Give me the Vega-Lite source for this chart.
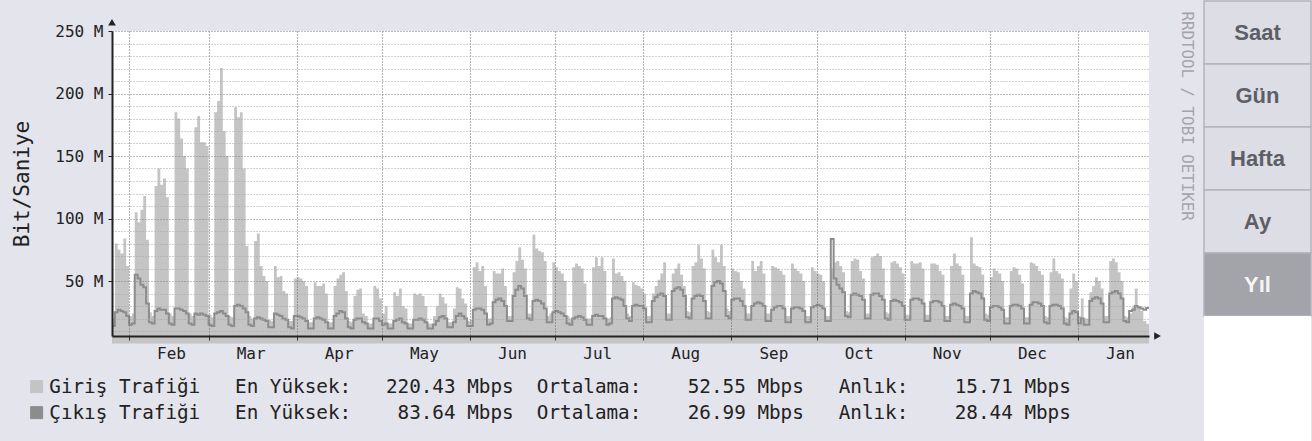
{
  "$schema": "https://vega.github.io/schema/vega-lite/v6.json",
  "background": "#e4e4ec",
  "padding": {"left": 11, "top": 0, "right": 0, "bottom": 0},
  "columns": 2,
  "align": "none",
  "spacing": 9,
  "config": {"view": {"stroke": null}},
  "datasets": {
    "traffic": [
      {"t":"2014-01-26","i":20,"o":14},{"t":"2014-01-27","i":80,"o":25},{"t":"2014-01-28","i":75,"o":27},{"t":"2014-01-29","i":72,"o":26},{"t":"2014-01-30","i":84,"o":25},{"t":"2014-01-31","i":62,"o":22},
      {"t":"2014-02-01","i":22,"o":15},{"t":"2014-02-02","i":24,"o":16},{"t":"2014-02-03","i":105,"o":55},{"t":"2014-02-04","i":97,"o":52},{"t":"2014-02-05","i":107,"o":47},{"t":"2014-02-06","i":118,"o":45},{"t":"2014-02-07","i":83,"o":32},
      {"t":"2014-02-08","i":25,"o":17},{"t":"2014-02-09","i":22,"o":16},{"t":"2014-02-10","i":126,"o":26},{"t":"2014-02-11","i":140,"o":28},{"t":"2014-02-12","i":127,"o":27},{"t":"2014-02-13","i":132,"o":27},{"t":"2014-02-14","i":117,"o":24},
      {"t":"2014-02-15","i":24,"o":16},{"t":"2014-02-16","i":22,"o":15},{"t":"2014-02-17","i":185,"o":28},{"t":"2014-02-18","i":180,"o":28},{"t":"2014-02-19","i":164,"o":27},{"t":"2014-02-20","i":150,"o":26},{"t":"2014-02-21","i":140,"o":24},
      {"t":"2014-02-22","i":24,"o":16},{"t":"2014-02-23","i":22,"o":15},{"t":"2014-02-24","i":173,"o":24},{"t":"2014-02-25","i":182,"o":23},{"t":"2014-02-26","i":161,"o":24},{"t":"2014-02-27","i":161,"o":23},{"t":"2014-02-28","i":158,"o":22},
      {"t":"2014-03-01","i":23,"o":15},{"t":"2014-03-02","i":21,"o":14},{"t":"2014-03-03","i":185,"o":24},{"t":"2014-03-04","i":194,"o":25},{"t":"2014-03-05","i":220.43,"o":26},{"t":"2014-03-06","i":170,"o":24},{"t":"2014-03-07","i":150,"o":22},
      {"t":"2014-03-08","i":22,"o":15},{"t":"2014-03-09","i":21,"o":14},{"t":"2014-03-10","i":189,"o":30},{"t":"2014-03-11","i":181,"o":31},{"t":"2014-03-12","i":185,"o":30},{"t":"2014-03-13","i":140,"o":28},{"t":"2014-03-14","i":78,"o":25},
      {"t":"2014-03-15","i":22,"o":15},{"t":"2014-03-16","i":20,"o":14},{"t":"2014-03-17","i":82,"o":20},{"t":"2014-03-18","i":88,"o":21},{"t":"2014-03-19","i":62,"o":20},{"t":"2014-03-20","i":54,"o":19},{"t":"2014-03-21","i":50,"o":18},
      {"t":"2014-03-22","i":19,"o":13},{"t":"2014-03-23","i":18,"o":13},{"t":"2014-03-24","i":62,"o":24},{"t":"2014-03-25","i":53,"o":23},{"t":"2014-03-26","i":54,"o":22},{"t":"2014-03-27","i":42,"o":20},{"t":"2014-03-28","i":40,"o":19},
      {"t":"2014-03-29","i":18,"o":13},{"t":"2014-03-30","i":18,"o":12},{"t":"2014-03-31","i":52,"o":22},{"t":"2014-04-01","i":53,"o":22},{"t":"2014-04-02","i":52,"o":21},{"t":"2014-04-03","i":50,"o":20},{"t":"2014-04-04","i":46,"o":18},
      {"t":"2014-04-05","i":17,"o":12},{"t":"2014-04-06","i":17,"o":12},{"t":"2014-04-07","i":49,"o":20},{"t":"2014-04-08","i":46,"o":21},{"t":"2014-04-09","i":46,"o":20},{"t":"2014-04-10","i":48,"o":19},{"t":"2014-04-11","i":40,"o":17},
      {"t":"2014-04-12","i":17,"o":12},{"t":"2014-04-13","i":17,"o":12},{"t":"2014-04-14","i":46,"o":22},{"t":"2014-04-15","i":52,"o":24},{"t":"2014-04-16","i":55,"o":26},{"t":"2014-04-17","i":57,"o":25},{"t":"2014-04-18","i":42,"o":20},
      {"t":"2014-04-19","i":18,"o":13},{"t":"2014-04-20","i":17,"o":12},{"t":"2014-04-21","i":38,"o":19},{"t":"2014-04-22","i":43,"o":20},{"t":"2014-04-23","i":44,"o":20},{"t":"2014-04-24","i":24,"o":17},{"t":"2014-04-25","i":22,"o":16},
      {"t":"2014-04-26","i":16,"o":12},{"t":"2014-04-27","i":16,"o":12},{"t":"2014-04-28","i":46,"o":20},{"t":"2014-04-29","i":44,"o":20},{"t":"2014-04-30","i":36,"o":18},{"t":"2014-05-01","i":24,"o":15},{"t":"2014-05-02","i":30,"o":16},
      {"t":"2014-05-03","i":16,"o":12},{"t":"2014-05-04","i":16,"o":12},{"t":"2014-05-05","i":41,"o":18},{"t":"2014-05-06","i":38,"o":19},{"t":"2014-05-07","i":44,"o":20},{"t":"2014-05-08","i":30,"o":17},{"t":"2014-05-09","i":28,"o":16},
      {"t":"2014-05-10","i":16,"o":12},{"t":"2014-05-11","i":16,"o":12},{"t":"2014-05-12","i":40,"o":19},{"t":"2014-05-13","i":39,"o":19},{"t":"2014-05-14","i":40,"o":20},{"t":"2014-05-15","i":38,"o":19},{"t":"2014-05-16","i":30,"o":17},
      {"t":"2014-05-17","i":16,"o":12},{"t":"2014-05-18","i":16,"o":12},{"t":"2014-05-19","i":22,"o":15},{"t":"2014-05-20","i":30,"o":18},{"t":"2014-05-21","i":40,"o":21},{"t":"2014-05-22","i":37,"o":22},{"t":"2014-05-23","i":32,"o":20},
      {"t":"2014-05-24","i":17,"o":13},{"t":"2014-05-25","i":17,"o":13},{"t":"2014-05-26","i":28,"o":17},{"t":"2014-05-27","i":45,"o":22},{"t":"2014-05-28","i":44,"o":24},{"t":"2014-05-29","i":36,"o":22},{"t":"2014-05-30","i":32,"o":20},
      {"t":"2014-05-31","i":18,"o":14},{"t":"2014-06-01","i":19,"o":14},{"t":"2014-06-02","i":61,"o":27},{"t":"2014-06-03","i":65,"o":28},{"t":"2014-06-04","i":58,"o":28},{"t":"2014-06-05","i":62,"o":27},{"t":"2014-06-06","i":46,"o":24},
      {"t":"2014-06-07","i":20,"o":15},{"t":"2014-06-08","i":20,"o":16},{"t":"2014-06-09","i":58,"o":33},{"t":"2014-06-10","i":56,"o":35},{"t":"2014-06-11","i":56,"o":36},{"t":"2014-06-12","i":60,"o":34},{"t":"2014-06-13","i":46,"o":30},
      {"t":"2014-06-14","i":22,"o":18},{"t":"2014-06-15","i":22,"o":18},{"t":"2014-06-16","i":57,"o":38},{"t":"2014-06-17","i":66,"o":43},{"t":"2014-06-18","i":77,"o":46},{"t":"2014-06-19","i":67,"o":44},{"t":"2014-06-20","i":60,"o":38},
      {"t":"2014-06-21","i":24,"o":20},{"t":"2014-06-22","i":24,"o":19},{"t":"2014-06-23","i":87,"o":34},{"t":"2014-06-24","i":76,"o":35},{"t":"2014-06-25","i":74,"o":34},{"t":"2014-06-26","i":73,"o":32},{"t":"2014-06-27","i":66,"o":28},
      {"t":"2014-06-28","i":22,"o":17},{"t":"2014-06-29","i":24,"o":17},{"t":"2014-06-30","i":65,"o":25},{"t":"2014-07-01","i":61,"o":26},{"t":"2014-07-02","i":58,"o":25},{"t":"2014-07-03","i":56,"o":24},{"t":"2014-07-04","i":50,"o":22},
      {"t":"2014-07-05","i":22,"o":16},{"t":"2014-07-06","i":20,"o":15},{"t":"2014-07-07","i":61,"o":20},{"t":"2014-07-08","i":64,"o":21},{"t":"2014-07-09","i":62,"o":22},{"t":"2014-07-10","i":60,"o":21},{"t":"2014-07-11","i":48,"o":19},
      {"t":"2014-07-12","i":20,"o":15},{"t":"2014-07-13","i":20,"o":15},{"t":"2014-07-14","i":61,"o":22},{"t":"2014-07-15","i":69,"o":23},{"t":"2014-07-16","i":62,"o":22},{"t":"2014-07-17","i":69,"o":22},{"t":"2014-07-18","i":58,"o":20},
      {"t":"2014-07-19","i":20,"o":15},{"t":"2014-07-20","i":21,"o":16},{"t":"2014-07-21","i":68,"o":36},{"t":"2014-07-22","i":56,"o":37},{"t":"2014-07-23","i":57,"o":36},{"t":"2014-07-24","i":54,"o":35},{"t":"2014-07-25","i":50,"o":30},
      {"t":"2014-07-26","i":24,"o":20},{"t":"2014-07-27","i":22,"o":18},{"t":"2014-07-28","i":49,"o":30},{"t":"2014-07-29","i":47,"o":31},{"t":"2014-07-30","i":46,"o":30},{"t":"2014-07-31","i":44,"o":30},{"t":"2014-08-01","i":40,"o":28},
      {"t":"2014-08-02","i":22,"o":17},{"t":"2014-08-03","i":22,"o":17},{"t":"2014-08-04","i":40,"o":34},{"t":"2014-08-05","i":46,"o":37},{"t":"2014-08-06","i":51,"o":39},{"t":"2014-08-07","i":56,"o":40},{"t":"2014-08-08","i":65,"o":38},
      {"t":"2014-08-09","i":24,"o":19},{"t":"2014-08-10","i":24,"o":19},{"t":"2014-08-11","i":56,"o":42},{"t":"2014-08-12","i":60,"o":44},{"t":"2014-08-13","i":64,"o":45},{"t":"2014-08-14","i":55,"o":43},{"t":"2014-08-15","i":46,"o":38},
      {"t":"2014-08-16","i":26,"o":21},{"t":"2014-08-17","i":25,"o":20},{"t":"2014-08-18","i":62,"o":36},{"t":"2014-08-19","i":65,"o":38},{"t":"2014-08-20","i":79,"o":39},{"t":"2014-08-21","i":68,"o":38},{"t":"2014-08-22","i":60,"o":34},
      {"t":"2014-08-23","i":26,"o":20},{"t":"2014-08-24","i":25,"o":20},{"t":"2014-08-25","i":75,"o":46},{"t":"2014-08-26","i":69,"o":49},{"t":"2014-08-27","i":65,"o":50},{"t":"2014-08-28","i":79,"o":48},{"t":"2014-08-29","i":62,"o":42},
      {"t":"2014-08-30","i":28,"o":22},{"t":"2014-08-31","i":26,"o":20},{"t":"2014-09-01","i":60,"o":35},{"t":"2014-09-02","i":58,"o":36},{"t":"2014-09-03","i":57,"o":36},{"t":"2014-09-04","i":50,"o":34},{"t":"2014-09-05","i":44,"o":30},
      {"t":"2014-09-06","i":24,"o":19},{"t":"2014-09-07","i":24,"o":19},{"t":"2014-09-08","i":66,"o":30},{"t":"2014-09-09","i":58,"o":32},{"t":"2014-09-10","i":62,"o":33},{"t":"2014-09-11","i":66,"o":32},{"t":"2014-09-12","i":56,"o":30},
      {"t":"2014-09-13","i":24,"o":18},{"t":"2014-09-14","i":24,"o":18},{"t":"2014-09-15","i":62,"o":27},{"t":"2014-09-16","i":61,"o":29},{"t":"2014-09-17","i":60,"o":30},{"t":"2014-09-18","i":58,"o":30},{"t":"2014-09-19","i":55,"o":28},
      {"t":"2014-09-20","i":22,"o":17},{"t":"2014-09-21","i":22,"o":17},{"t":"2014-09-22","i":64,"o":28},{"t":"2014-09-23","i":60,"o":29},{"t":"2014-09-24","i":58,"o":29},{"t":"2014-09-25","i":56,"o":28},{"t":"2014-09-26","i":50,"o":26},
      {"t":"2014-09-27","i":22,"o":17},{"t":"2014-09-28","i":22,"o":17},{"t":"2014-09-29","i":61,"o":29},{"t":"2014-09-30","i":58,"o":30},{"t":"2014-10-01","i":56,"o":31},{"t":"2014-10-02","i":55,"o":30},{"t":"2014-10-03","i":50,"o":28},
      {"t":"2014-10-04","i":22,"o":18},{"t":"2014-10-05","i":22,"o":18},{"t":"2014-10-06","i":60,"o":83.64},{"t":"2014-10-07","i":65,"o":52},{"t":"2014-10-08","i":66,"o":47},{"t":"2014-10-09","i":62,"o":44},{"t":"2014-10-10","i":57,"o":41},
      {"t":"2014-10-11","i":26,"o":22},{"t":"2014-10-12","i":25,"o":21},{"t":"2014-10-13","i":66,"o":39},{"t":"2014-10-14","i":68,"o":40},{"t":"2014-10-15","i":67,"o":39},{"t":"2014-10-16","i":58,"o":38},{"t":"2014-10-17","i":52,"o":35},
      {"t":"2014-10-18","i":24,"o":20},{"t":"2014-10-19","i":24,"o":20},{"t":"2014-10-20","i":69,"o":39},{"t":"2014-10-21","i":70,"o":40},{"t":"2014-10-22","i":72,"o":40},{"t":"2014-10-23","i":70,"o":38},{"t":"2014-10-24","i":60,"o":35},
      {"t":"2014-10-25","i":25,"o":20},{"t":"2014-10-26","i":24,"o":19},{"t":"2014-10-27","i":65,"o":34},{"t":"2014-10-28","i":66,"o":35},{"t":"2014-10-29","i":64,"o":34},{"t":"2014-10-30","i":61,"o":33},{"t":"2014-10-31","i":56,"o":30},
      {"t":"2014-11-01","i":23,"o":19},{"t":"2014-11-02","i":23,"o":19},{"t":"2014-11-03","i":66,"o":35},{"t":"2014-11-04","i":64,"o":36},{"t":"2014-11-05","i":64,"o":36},{"t":"2014-11-06","i":65,"o":35},{"t":"2014-11-07","i":60,"o":32},
      {"t":"2014-11-08","i":23,"o":18},{"t":"2014-11-09","i":23,"o":18},{"t":"2014-11-10","i":64,"o":33},{"t":"2014-11-11","i":64,"o":34},{"t":"2014-11-12","i":63,"o":34},{"t":"2014-11-13","i":58,"o":33},{"t":"2014-11-14","i":55,"o":30},
      {"t":"2014-11-15","i":22,"o":18},{"t":"2014-11-16","i":22,"o":18},{"t":"2014-11-17","i":62,"o":31},{"t":"2014-11-18","i":72,"o":32},{"t":"2014-11-19","i":64,"o":31},{"t":"2014-11-20","i":62,"o":30},{"t":"2014-11-21","i":55,"o":28},
      {"t":"2014-11-22","i":22,"o":17},{"t":"2014-11-23","i":22,"o":17},{"t":"2014-11-24","i":85,"o":40},{"t":"2014-11-25","i":64,"o":42},{"t":"2014-11-26","i":62,"o":41},{"t":"2014-11-27","i":61,"o":40},{"t":"2014-11-28","i":55,"o":36},
      {"t":"2014-11-29","i":24,"o":19},{"t":"2014-11-30","i":23,"o":18},{"t":"2014-12-01","i":53,"o":29},{"t":"2014-12-02","i":60,"o":30},{"t":"2014-12-03","i":58,"o":30},{"t":"2014-12-04","i":56,"o":29},{"t":"2014-12-05","i":50,"o":27},
      {"t":"2014-12-06","i":21,"o":16},{"t":"2014-12-07","i":21,"o":16},{"t":"2014-12-08","i":58,"o":30},{"t":"2014-12-09","i":61,"o":31},{"t":"2014-12-10","i":60,"o":31},{"t":"2014-12-11","i":55,"o":30},{"t":"2014-12-12","i":48,"o":28},
      {"t":"2014-12-13","i":21,"o":16},{"t":"2014-12-14","i":21,"o":16},{"t":"2014-12-15","i":65,"o":31},{"t":"2014-12-16","i":64,"o":33},{"t":"2014-12-17","i":62,"o":33},{"t":"2014-12-18","i":58,"o":32},{"t":"2014-12-19","i":55,"o":30},
      {"t":"2014-12-20","i":22,"o":17},{"t":"2014-12-21","i":21,"o":16},{"t":"2014-12-22","i":57,"o":30},{"t":"2014-12-23","i":68,"o":31},{"t":"2014-12-24","i":58,"o":31},{"t":"2014-12-25","i":56,"o":30},{"t":"2014-12-26","i":52,"o":28},
      {"t":"2014-12-27","i":21,"o":16},{"t":"2014-12-28","i":20,"o":15},{"t":"2014-12-29","i":44,"o":24},{"t":"2014-12-30","i":56,"o":26},{"t":"2014-12-31","i":50,"o":25},{"t":"2015-01-01","i":22,"o":16},{"t":"2015-01-02","i":36,"o":20},
      {"t":"2015-01-03","i":20,"o":15},{"t":"2015-01-04","i":20,"o":15},{"t":"2015-01-05","i":41,"o":34},{"t":"2015-01-06","i":46,"o":36},{"t":"2015-01-07","i":53,"o":37},{"t":"2015-01-08","i":50,"o":36},{"t":"2015-01-09","i":44,"o":32},
      {"t":"2015-01-10","i":22,"o":17},{"t":"2015-01-11","i":22,"o":17},{"t":"2015-01-12","i":66,"o":40},{"t":"2015-01-13","i":68,"o":41},{"t":"2015-01-14","i":65,"o":42},{"t":"2015-01-15","i":57,"o":40},{"t":"2015-01-16","i":50,"o":36},
      {"t":"2015-01-17","i":22,"o":18},{"t":"2015-01-18","i":21,"o":17},{"t":"2015-01-19","i":24,"o":26},{"t":"2015-01-20","i":29,"o":27},{"t":"2015-01-21","i":44,"o":30},{"t":"2015-01-22","i":30,"o":29},{"t":"2015-01-23","i":26,"o":28},
      {"t":"2015-01-24","i":18,"o":27},{"t":"2015-01-25","i":15.71,"o":28.44},{"t":"2015-01-26","i":15.71,"o":28.44}
    ],
    "arrowX": [{"t":"2015-01-29","v":6}],
    "arrowY": [{"t":"2014-01-26","v":257}],
    "buttons": [
      {"k":"Saat","label":"Saat"},{"k":"Gün","label":"Gün"},{"k":"Hafta","label":"Hafta"},{"k":"Ay","label":"Ay"},{"k":"Yıl","label":"Yıl"},{"k":"b1","label":""},{"k":"b2","label":""}
    ]
  },
  "concat": [
    {
      "spacing": 9,
      "vconcat": [
        {
          "width": 1037,
          "height": 1,
          "view": {"fill": null, "stroke": null},
          "data": {"values": []},
          "mark": "rect",
          "encoding": {}
        },
        {
          "width": 1037,
          "height": 305,
          "view": {"fill": "#ffffff", "stroke": null},
          "layer": [
            {
              "data": {"name": "traffic"},
              "mark": {"type": "area", "interpolate": "step-after", "opacity": 1},
              "encoding": {
                "x": {
                  "field": "t", "type": "temporal",
                  "scale": {"type": "utc", "nice": false, "domain": [{"year":2014,"month":1,"date":26,"utc":true},{"year":2015,"month":1,"date":26,"utc":true}]},
                  "axis": {
                    "values": [{"year":2014,"month":2,"date":1,"utc":true},{"year":2014,"month":3,"date":1,"utc":true},{"year":2014,"month":4,"date":1,"utc":true},{"year":2014,"month":5,"date":1,"utc":true},{"year":2014,"month":6,"date":1,"utc":true},{"year":2014,"month":7,"date":1,"utc":true},{"year":2014,"month":8,"date":1,"utc":true},{"year":2014,"month":9,"date":1,"utc":true},{"year":2014,"month":10,"date":1,"utc":true},{"year":2014,"month":11,"date":1,"utc":true},{"year":2014,"month":12,"date":1,"utc":true},{"year":2015,"month":1,"date":1,"utc":true}],
                    "labelExpr": "utcFormat(datum.value, '%b')",
                    "labelOffset": 42,
                    "labelFont": "DejaVu Sans Mono", "labelFontSize": 16, "labelColor": "#222222",
                    "labelPadding": 5, "labelFlush": false, "labelOverlap": false,
                    "tickSize": 4, "tickColor": "#333333",
                    "domainColor": "#222222", "domainWidth": 2,
                    "grid": true, "gridColor": "#666666", "gridDash": [1, 2], "gridWidth": 1,
                    "title": null, "zindex": 1
                  }
                },
                "y": {
                  "field": "i", "type": "quantitative",
                  "scale": {"domain": [6, 250], "nice": false, "zero": false},
                  "axis": {
                    "orient": "left",
                    "values": [10,20,30,40,50,60,70,80,90,100,110,120,130,140,150,160,170,180,190,200,210,220,230,240,250],
                    "labelExpr": "datum.value % 50 === 0 ? datum.value + ' M' : ''",
                    "labelFont": "DejaVu Sans Mono", "labelFontSize": 16, "labelColor": "#222222",
                    "labelPadding": 5, "labelOverlap": false,
                    "tickSize": 4,
                    "tickColor": {"condition": {"test": "datum.value % 50 === 0", "value": "#222222"}, "value": "transparent"},
                    "domainColor": "#222222", "domainWidth": 2,
                    "grid": true,
                    "gridColor": {"condition": {"test": "datum.value % 50 === 0", "value": "#808080"}, "value": "#a4a4a4"},
                    "gridDash": [1, 2], "gridWidth": 1,
                    "title": "Bit/Saniye", "titleFont": "DejaVu Sans Mono", "titleFontSize": 21, "titleFontWeight": "normal", "titleColor": "#222222", "titlePadding": 22,
                    "zindex": 1
                  }
                },
                "color": {
                  "datum": "Giriş Trafiği\u00a0\u00a0\u00a0En Yüksek:\u00a0\u00a0\u00a0220.43 Mbps\u00a0\u00a0Ortalama:\u00a0\u00a0\u00a0\u00a052.55 Mbps\u00a0\u00a0\u00a0Anlık:\u00a0\u00a0\u00a0\u00a015.71 Mbps",
                  "type": "nominal",
                  "scale": {
                    "domain": [
                      "Giriş Trafiği\u00a0\u00a0\u00a0En Yüksek:\u00a0\u00a0\u00a0220.43 Mbps\u00a0\u00a0Ortalama:\u00a0\u00a0\u00a0\u00a052.55 Mbps\u00a0\u00a0\u00a0Anlık:\u00a0\u00a0\u00a0\u00a015.71 Mbps",
                      "Çıkış Trafiği\u00a0\u00a0\u00a0En Yüksek:\u00a0\u00a0\u00a0\u00a083.64 Mbps\u00a0\u00a0Ortalama:\u00a0\u00a0\u00a0\u00a026.99 Mbps\u00a0\u00a0\u00a0Anlık:\u00a0\u00a0\u00a0\u00a028.44 Mbps"
                    ],
                    "range": ["#c4c4c4", "#8c8c8c"]
                  },
                  "legend": {
                    "orient": "none", "legendX": -85, "legendY": 376,
                    "title": null, "direction": "vertical", "padding": 0, "offset": 0,
                    "labelFont": "DejaVu Sans Mono", "labelFontSize": 19.3, "labelColor": "#222222", "labelLimit": 2000,
                    "labelOffset": 3, "rowPadding": 6,
                    "symbolType": "square", "symbolSize": 144, "symbolStrokeColor": "#444444", "symbolStrokeWidth": 1,
                    "encode": {"symbols": {"update": {"fill": {"scale": "color", "field": "value"}, "stroke": {"value": "#444444"}, "strokeWidth": {"value": 1}, "shape": {"value": "square"}, "size": {"value": 144}, "opacity": {"value": 1}}}}
                  }
                }
              }
            },
            {
              "data": {"name": "traffic"},
              "mark": {"type": "line", "interpolate": "step-after", "strokeWidth": 2},
              "encoding": {
                "x": {"field": "t", "type": "temporal"},
                "y": {
                  "field": "o", "type": "quantitative",
                  "axis": {
                    "orient": "right", "labels": false, "ticks": false, "domain": false, "grid": false,
                    "title": "RRDTOOL / TOBI OETIKER", "titleFont": "DejaVu Sans Mono", "titleFontSize": 15.8, "titleFontWeight": "normal",
                    "titleColor": "#a4a4ac", "titleAngle": 90, "titleX": 37, "titleY": -20, "titleAlign": "left", "titleBaseline": "middle"
                  }
                },
                "color": {"datum": "Çıkış Trafiği\u00a0\u00a0\u00a0En Yüksek:\u00a0\u00a0\u00a0\u00a083.64 Mbps\u00a0\u00a0Ortalama:\u00a0\u00a0\u00a0\u00a026.99 Mbps\u00a0\u00a0\u00a0Anlık:\u00a0\u00a0\u00a0\u00a028.44 Mbps", "type": "nominal"}
              }
            },
            {
              "data": {"name": "arrowX"},
              "mark": {"type": "point", "shape": "triangle-right", "filled": true, "color": "#222222", "size": 60, "opacity": 1},
              "encoding": {"x": {"field": "t", "type": "temporal"}, "y": {"field": "v", "type": "quantitative", "axis": null}}
            },
            {
              "data": {"name": "arrowY"},
              "mark": {"type": "point", "shape": "triangle-up", "filled": true, "color": "#222222", "size": 60, "opacity": 1},
              "encoding": {"x": {"field": "t", "type": "temporal"}, "y": {"field": "v", "type": "quantitative", "axis": null}}
            }
          ],
          "resolve": {"axis": {"y": "independent"}}
        }
      ]
    },
    {
      "width": 107,
      "height": 441,
      "view": {"fill": null, "stroke": null},
      "data": {"name": "buttons"},
      "encoding": {
        "y": {"field": "k", "type": "nominal", "sort": null, "scale": {"domain": ["Saat","Gün","Hafta","Ay","Yıl","b1","b2"], "paddingInner": 0, "paddingOuter": 0}, "axis": null}
      },
      "layer": [
        {
          "mark": {"type": "rect", "strokeWidth": 1.5},
          "encoding": {
            "fill": {"condition": [{"test": "datum.k === 'Yıl'", "value": "#a3a3aa"}, {"test": "datum.label === ''", "value": "#ffffff"}], "value": "#dddde5"},
            "stroke": {"condition": [{"test": "datum.k === 'Yıl'", "value": "#b4b4bc"}, {"test": "datum.label === ''", "value": "transparent"}], "value": "#b4b4bc"}
          }
        },
        {
          "mark": {"type": "text", "font": "Liberation Sans Narrow, Liberation Sans, Arial", "fontWeight": "bold", "fontSize": 22},
          "encoding": {
            "text": {"field": "label"},
            "color": {"condition": {"test": "datum.k === 'Yıl'", "value": "#f5f5f5"}, "value": "#5e5e66"}
          }
        }
      ]
    }
  ]
}
